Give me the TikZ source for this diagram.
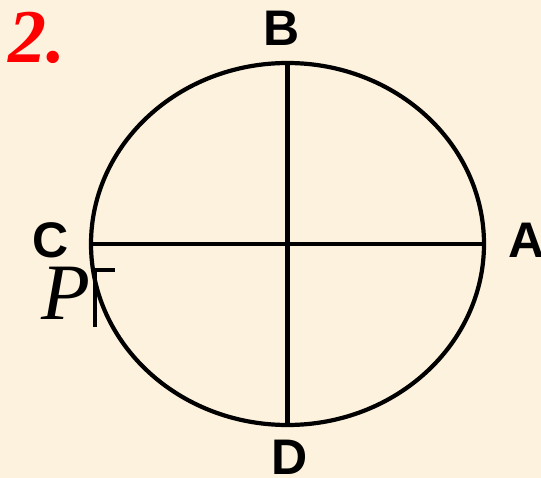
\documentclass[tikz,border=0pt]{standalone}
\usepackage{fontspec}
\setmainfont{Liberation Serif}
\newfontfamily\lblfont{Liberation Sans}
\usepackage{xcolor}
\definecolor{paper}{RGB}{252,242,221}

\begin{document}
\begin{tikzpicture}[x=1pt,y=1pt,yscale=-1,xscale=1,
    rim/.style={line width=4.2pt,color=black},
    lbl/.style={inner sep=0pt,anchor=base,font=\lblfont\bfseries\fontsize{50}{54}\selectfont}]
                   % Background
                    \fill[paper] (0,0) rectangle (541,478);
                    \useasboundingbox (0,0) rectangle (541,478);
                    %Points on the circle
                    \coordinate (O) at (287.5,244);
                    \coordinate (pA) at (484,244);
                    \coordinate (pB) at (287.5,63);
                    \coordinate (pC) at (91,244);
                    \coordinate (pD) at (287.5,425);
                    %Shape: Ellipse
                    \draw [rim] (O) ellipse [x radius=196.5, y radius=181];
                    %Straight Lines
                    \draw [rim] (pC) -- (pA) ;
                    %Straight Lines
                    \draw [rim] (pB) -- (pD) ;
                    %Mark at P
                    \coordinate (m1) at (95,327);
                    \coordinate (m2) at (95,270);
                    \coordinate (m3) at (115,270);
                    \draw [line width=3.4pt] (m1) -- (m2) -- (m3) ;

                    % Text Node
                    \node (A) [lbl] at (527,258) {A};
                    % Text Node
                    \node (B) [lbl] at (282,46) {B};
                    % Text Node
                    \node (C) [lbl] at (51,258) {C};
                    % Text Node
                    \node (D) [lbl] at (290,474) {D};
                    % Text Node
                    \node (P) [inner sep=0pt,anchor=base,font=\fontsize{80}{84}\selectfont\itshape] at (66,320) {P};
                    % Text Node
                    \node (num) [inner sep=0pt,anchor=base,text=red,font=\fontsize{76}{80}\selectfont\bfseries\itshape] at (37,63) {2.};
                \end{tikzpicture}
\end{document}
